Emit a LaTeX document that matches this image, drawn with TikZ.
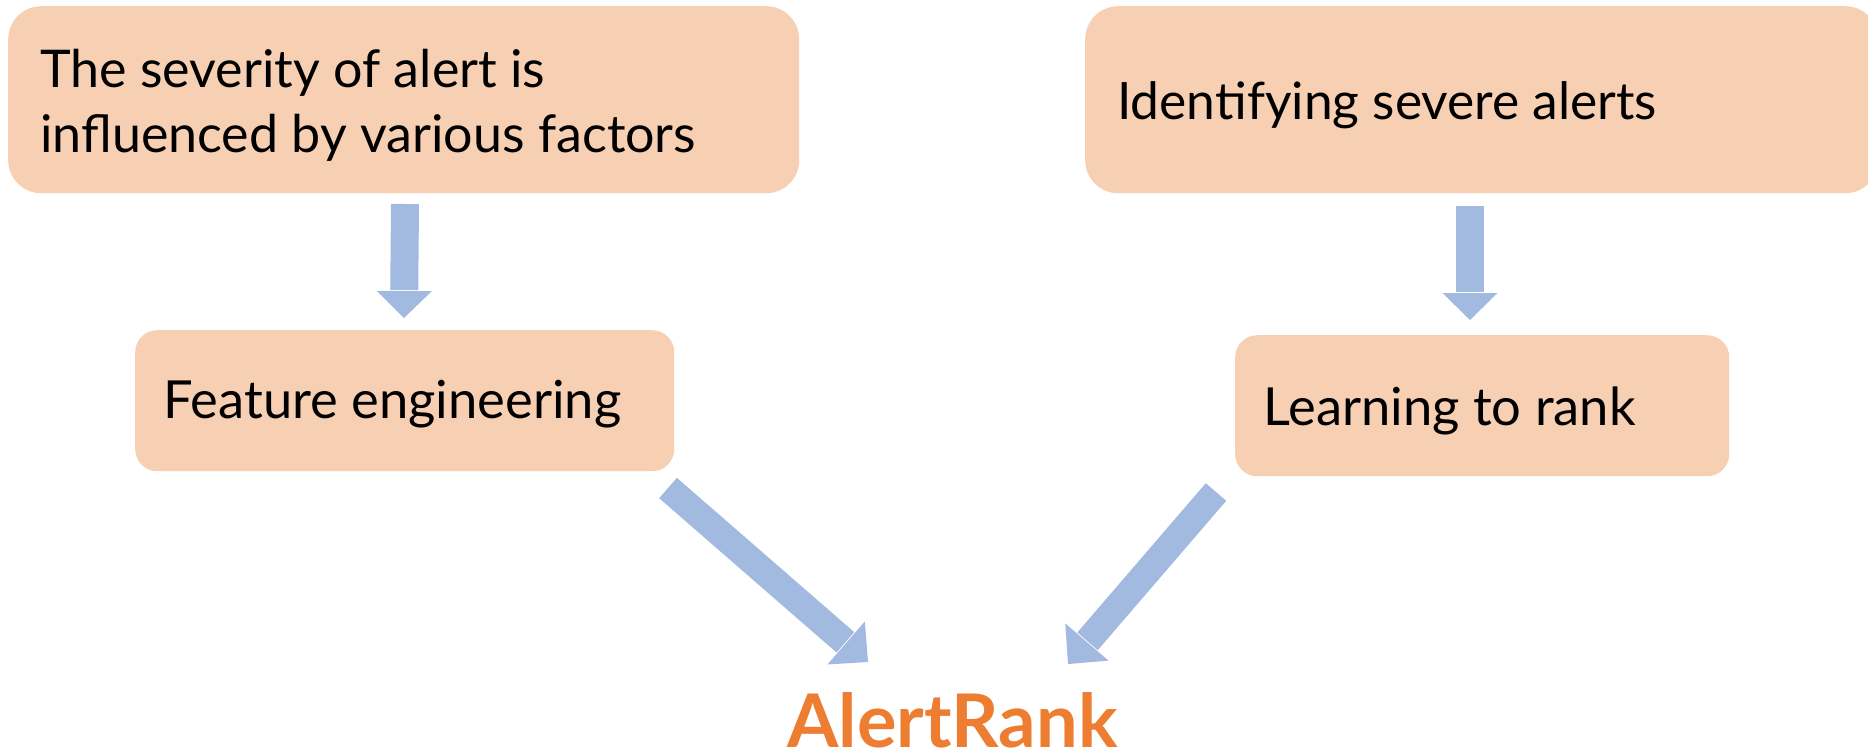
\documentclass[tikz,border=0pt]{standalone}
\usepackage{fontspec}
\setmainfont{Lato}
\usetikzlibrary{calc}
\definecolor{boxfill}{HTML}{F7CFB3}
\definecolor{arrowblue}{HTML}{A2B9E0}
\definecolor{rankorange}{HTML}{ED7D31}
\newcommand\blkarrow[5]{%
  \coordinate (hb) at ($(#2)!#5!(#1)$);
  \draw[arrowblue, line width=#3] (#1) -- ($(hb)!-1pt!(#2)$);
  \fill[arrowblue] (#2) -- ($(hb)!#4!90:(#2)$) -- ($(hb)!#4!-90:(#2)$) -- cycle;}
\begin{document}
\begin{tikzpicture}[x=1pt,y=-1pt,
  pbox/.style={fill=boxfill, draw=none, inner sep=0pt, anchor=north west},
  toptxt/.style={inner sep=0pt, anchor=base west, text=black, font=\fontsize{52}{62}\selectfont},
  idtxt/.style={inner sep=0pt, anchor=base west, text=black, font=\fontsize{51.5}{62}\selectfont},
  midtxt/.style={inner sep=0pt, anchor=base west, text=black, font=\fontsize{52.5}{63}\selectfont},
  ranktxt/.style={inner sep=0pt, anchor=base west, text=rankorange, font=\fontsize{74}{88}\selectfont\bfseries}]
\useasboundingbox (0,0) rectangle (1868,755);
% boxes
\node[pbox, rounded corners=33pt, minimum width=791pt, minimum height=187pt] (b1) at (8,6) {};
\node[pbox, rounded corners=33pt, minimum width=793pt, minimum height=187pt] (b2) at (1085,6) {};
\node[pbox, rounded corners=22pt, minimum width=539pt, minimum height=141pt] (b3) at (135,330) {};
\node[pbox, rounded corners=22pt, minimum width=494pt, minimum height=141pt] (b4) at (1235,335) {};
% texts
\node[toptxt] (t1a) at (40,87) {The severity of alert is};
\node[toptxt] (t1b) at (40,152) {influenced by various factors};
\node[idtxt] (t2) at (1117,119) {Identifying severe alerts};
\node[midtxt] (t3) at (163,418) {Feature engineering};
\node[midtxt] (t4) at (1263,425) {Learning to rank};
\node[ranktxt] (rank) at (787,747) {AlertRank};
% arrow end points
\coordinate (a1s) at (405,204);
\coordinate (a1e) at (404,318);
\coordinate (a2s) at (1470,206);
\coordinate (a2e) at (1470,320);
\coordinate (a3s) at (668,488);
\coordinate (a3e) at (868,662);
\coordinate (a4s) at (1216,492);
\coordinate (a4e) at (1068,664);
\blkarrow{a1s}{a1e}{28pt}{27.5pt}{27pt}
\blkarrow{a2s}{a2e}{28pt}{27.5pt}{27pt}
\blkarrow{a3s}{a3e}{27pt}{28.5pt}{29pt}
\blkarrow{a4s}{a4e}{27pt}{28.5pt}{29pt}
\end{tikzpicture}
\end{document}
